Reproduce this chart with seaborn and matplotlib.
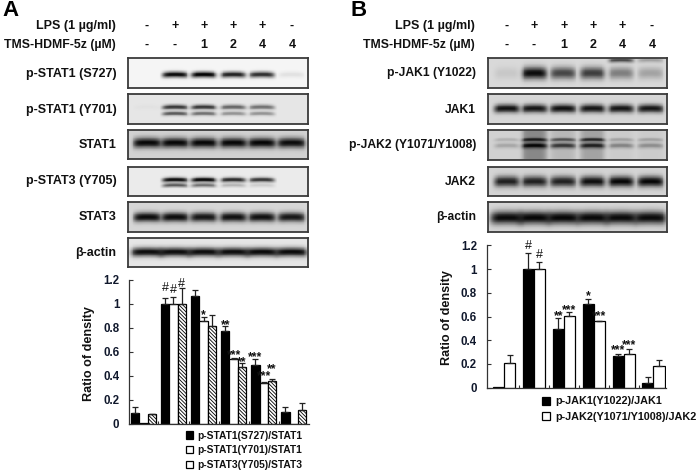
import numpy as np
import pandas as pd
import matplotlib
matplotlib.use("Agg")
import matplotlib.pyplot as plt
import seaborn as sns

W, H = 699, 473

# ---- bar data ----
grupos = ["g1", "g2", "g3", "g4", "g5", "g6"]

nomes_a = ["p-STAT1(S727)/STAT1", "p-STAT1(Y701)/STAT1", "p-STAT3(Y705)/STAT3"]
s727 = [0.09, 1.0, 1.07, 0.77, 0.49, 0.10]
s727_err = [0.05, 0.05, 0.05, 0.05, 0.05, 0.04]
y701 = [0.005, 1.0, 0.86, 0.54, 0.34, 0.0]
y701_err = [0.0, 0.06, 0.03, 0.005, 0.01, 0.0]
y705 = [0.08, 1.0, 0.82, 0.47, 0.36, 0.115]
y705_err = [0.005, 0.13, 0.085, 0.04, 0.015, 0.055]

nomes_b = ["p-JAK1(Y1022)/JAK1", "p-JAK2(Y1071/Y1008)/JAK2"]
jak1 = [0.005, 1.0, 0.495, 0.705, 0.27, 0.04]
jak1_err = [0.0, 0.135, 0.09, 0.04, 0.015, 0.05]
jak2 = [0.205, 1.0, 0.605, 0.56, 0.285, 0.18]
jak2_err = [0.07, 0.06, 0.03, 0.005, 0.04, 0.05]

# significance marks: group, bar, height, text
sig_a = [(1, 0, 1.135, "#"), (1, 1, 1.12, "#"), (1, 2, 1.17, "#"),
         (2, 1, 0.92, "*"), (3, 0, 0.84, "**"), (3, 1, 0.59, "***"),
         (3, 2, 0.53, "**"), (4, 0, 0.57, "***"), (4, 1, 0.41, "***"),
         (4, 2, 0.47, "**")]
sig_b = [(1, 0, 1.19, "#"), (1, 1, 1.12, "#"), (2, 0, 0.62, "**"),
         (2, 1, 0.67, "***"), (3, 0, 0.79, "*"), (3, 1, 0.62, "***"),
         (4, 0, 0.33, "***"), (4, 1, 0.375, "***")]

lps = ["-", "+", "+", "+", "+", "-"]
tms = ["-", "-", "1", "2", "4", "4"]
lanes_a = [147, 175, 204, 233, 262, 292]
lanes_b = [507, 534, 564, 593, 622, 652]

# ---- blots: background, lane half width, smear per lane, bands (y, sigma, lane darkness) ----
lane_frac = [0.105, 0.26, 0.42, 0.585, 0.745, 0.91]

blots_a = [
    ("p-STAT1 (S727)", 74, 58, 88, 0.96, 0.07, None,
     [(0.55, 0.1, [0, 0.95, 0.98, 0.85, 0.8, 0.08])]),
    ("p-STAT1 (Y701)", 110, 94, 124, 0.9, 0.07, None,
     [(0.43, 0.08, [0.02, 0.75, 0.75, 0.55, 0.5, 0]),
      (0.65, 0.07, [0, 0.6, 0.5, 0.35, 0.35, 0])]),
    ("STAT1", 145, 130, 159.5, 0.82, 0.078, None,
     [(0.43, 0.17, [0.97, 0.97, 0.97, 0.97, 0.98, 0.95])]),
    ("p-STAT3 (Y705)", 181, 166.7, 196, 0.92, 0.07, None,
     [(0.44, 0.08, [0, 0.93, 0.95, 0.8, 0.75, 0]),
      (0.63, 0.07, [0, 0.6, 0.5, 0.22, 0.12, 0])]),
    ("STAT3", 217, 202.3, 231.7, 0.84, 0.076, None,
     [(0.5, 0.16, [0.95, 0.95, 0.9, 0.93, 0.93, 0.9])]),
    ("β-actin", 253, 237.7, 267.3, 0.9, 0.09, None,
     [(0.48, 0.15, [0.95, 0.95, 0.95, 0.95, 0.96, 0.96])]),
]
blots_b = [
    ("p-JAK1 (Y1022)", 73, 58, 88, 0.85, 0.07, None,
     [(0.5, 0.2, [0.08, 0.95, 0.68, 0.72, 0.42, 0.25]),
      (0.06, 0.08, [0, 0, 0, 0, 0.65, 0.25])]),
    ("JAK1", 110, 94, 124, 0.84, 0.072, None,
     [(0.48, 0.14, [0.92, 0.9, 0.93, 0.9, 0.9, 0.9])]),
    ("p-JAK2 (Y1071/Y1008)", 145, 130, 159.7, 0.82, 0.07,
     [0.0, 0.35, 0.12, 0.22, 0.03, 0.03],
     [(0.32, 0.06, [0.15, 0.8, 0.55, 0.75, 0.2, 0.2]),
      (0.52, 0.09, [0.2, 0.95, 0.7, 0.8, 0.35, 0.3])]),
    ("JAK2", 181.7, 166.7, 196, 0.83, 0.072, None,
     [(0.5, 0.18, [0.85, 0.85, 0.85, 0.93, 0.97, 0.97])]),
    ("β-actin", 217, 202.3, 231.7, 0.84, 0.09, None,
     [(0.52, 0.22, [0.95, 0.97, 0.97, 0.96, 0.95, 0.95])]),
]

sns.set_theme(style="white")
plt.rcParams["font.family"] = ["Liberation Sans", "DejaVu Sans"]
plt.rcParams["font.weight"] = "bold"
plt.rcParams["hatch.linewidth"] = 0.6

fig = plt.figure(figsize=(W / 100, H / 100), dpi=100)
fundo = fig.add_axes([0, 0, 1, 1])
fundo.set_xlim(0, W)
fundo.set_ylim(H, 0)
fundo.axis("off")
COR = "#111111"
FS = 9.0


def eixo_px(x0, y0, x1, y1):
    return fig.add_axes([x0 / W, 1 - y1 / H, (x1 - x0) / W, (y1 - y0) / H])


def desenha_blot(x0, x1, y0, y1, bg, hw, smear, bands):
    ny, nx = 70, 200
    yy = np.linspace(0, 1, ny)[:, None]
    xx = np.linspace(0, 1, nx)[None, :]
    img = np.full((ny, nx), float(bg))
    for i, c in enumerate(lane_frac):
        perfil = np.exp(-(((xx - c) / hw) ** 6))
        if smear is not None:
            img = img * (1 - smear[i] * perfil)
        for by, sig, vals in bands:
            # bands sag a little towards the lane edges
            curva = by + 0.02 * ((xx - c) / hw) ** 2
            img = img * (1 - vals[i] * perfil * np.exp(-(((yy - curva) / sig) ** 2)))
    ax = eixo_px(x0, y0, x1, y1)
    sns.heatmap(img, ax=ax, cmap="gray", vmin=0, vmax=1, cbar=False,
                xticklabels=False, yticklabels=False, rasterized=True)
    for s in ax.spines.values():
        s.set_visible(True)
        s.set_color("#3a3a3a")
        s.set_linewidth(1.3)


def desenha_barras(box, xlim, nomes, series, erros, sig, cores, hatches, largura, legenda):
    ax = eixo_px(*box)
    df = pd.DataFrame({
        "grupo": grupos * len(nomes),
        "serie": [n for n in nomes for _ in grupos],
        "valor": [v for s in series for v in s],
    })
    sns.barplot(data=df, x="grupo", y="valor", hue="serie", ax=ax, palette=cores,
                width=largura, gap=0, dodge=True, edgecolor="black", linewidth=0.9,
                errorbar=None, legend=True)
    pos = []
    for cont, err, h in zip(ax.containers, erros, hatches):
        xs = [b.get_x() + b.get_width() / 2 for b in cont]
        ys = [b.get_height() for b in cont]
        pos.append(xs)
        for b in cont:
            b.set_hatch(h)
        mask = [e > 0 for e in err]
        ax.errorbar(np.array(xs)[mask], np.array(ys)[mask],
                    yerr=[np.zeros(sum(mask)), np.array(err)[mask]],
                    fmt="none", ecolor="#222222", elinewidth=0.9, capsize=2, capthick=0.9)
    for g, b, y, t in sig:
        if t == "#":
            ax.text(pos[b][g], y, t, ha="center", va="center", fontsize=9,
                    fontweight="normal", color=COR)
        else:
            ax.text(pos[b][g], y - 0.015, t, ha="center", va="center", fontsize=8.8,
                    fontweight="bold", color=COR)
    ax.set_xlim(*xlim)
    ax.set_ylim(0, 1.2)
    ax.set_yticks([0, 0.2, 0.4, 0.6, 0.8, 1, 1.2])
    ax.set_yticklabels(["0", "0.2", "0.4", "0.6", "0.8", "1", "1.2"],
                       fontsize=8.3, color="#10182c", fontweight="bold")
    ax.set_xticks(np.arange(0.5, 5.5, 1))
    ax.set_xticklabels([])
    ax.tick_params(axis="y", direction="in", length=3, width=0.8, color="#333333",
                   left=True, pad=7)
    ax.tick_params(axis="x", direction="in", length=2, width=0.8, color="#333333", bottom=True)
    ax.patch.set_alpha(0)
    sns.despine(ax=ax)
    for s in ["left", "bottom"]:
        ax.spines[s].set_color("#333333")
        ax.spines[s].set_linewidth(0.9)
    ax.set_xlabel("")
    ax.set_ylabel("Ratio of density", fontsize=9.1, fontweight="bold", color=COR)
    ax.yaxis.set_label_coords(-0.19, 0.49)
    handles, labels = ax.get_legend_handles_labels()
    lx, ly, esp, fs, pad = legenda
    ax.legend(handles, labels, loc="upper left",
              bbox_to_anchor=(lx / W, 1 - ly / H), bbox_transform=fig.transFigure,
              frameon=False, fontsize=fs, handlelength=0.72, handleheight=0.72,
              handletextpad=pad, labelspacing=esp, borderpad=0, borderaxespad=0,
              labelcolor=COR)
    return ax


def cabecalho(lanes, xdir):
    fundo.text(xdir, 26, "LPS (1 µg/ml)", ha="right", va="center", fontsize=FS, color=COR)
    fundo.text(xdir, 45, "TMS-HDMF-5z (µM)", ha="right", va="center", fontsize=FS - 0.2, color=COR)
    for x, a, b in zip(lanes, lps, tms):
        fundo.text(x, 26, a, ha="center", va="center", fontsize=FS, color=COR)
        fundo.text(x, 45, b, ha="center", va="center", fontsize=FS, color=COR)


# panel A
fundo.text(2, 11, "A", fontsize=16, va="center", ha="left", color="black")
cabecalho(lanes_a, 116)
for nome, yt, y0, y1, bg, hw, smear, bands in blots_a:
    fundo.text(116.5, yt, nome, ha="right", va="center", fontsize=FS, color=COR)
    desenha_blot(128, 308, y0, y1, bg, hw, smear, bands)

desenha_barras((129, 280, 308.5, 423.7), (-0.48, 5.49), nomes_a, [s727, y701, y705],
               [s727_err, y701_err, y705_err], sig_a,
               ["black", "white", "white"], ["", "", "\\\\\\\\\\\\\\\\\\"], 0.83,
               (185.5, 430.5, 0.46, 7.4, 0.4))

# panel B
fundo.text(351, 11, "B", fontsize=16, va="center", ha="left", color="black")
cabecalho(lanes_b, 474.5)
for nome, yt, y0, y1, bg, hw, smear, bands in blots_b:
    fundo.text(476, yt, nome, ha="right", va="center", fontsize=8.7, color=COR)
    desenha_blot(487.7, 667, y0, y1, bg, hw, smear, bands)

desenha_barras((486.7, 245.3, 666, 387.7), (-0.58, 5.42), nomes_b, [jak1, jak2],
               [jak1_err, jak2_err], sig_b,
               ["black", "white"], ["", ""], 0.74,
               (541.7, 396.5, 0.48, 7.8, 0.5))

fig.savefig("out.png", dpi=100)
